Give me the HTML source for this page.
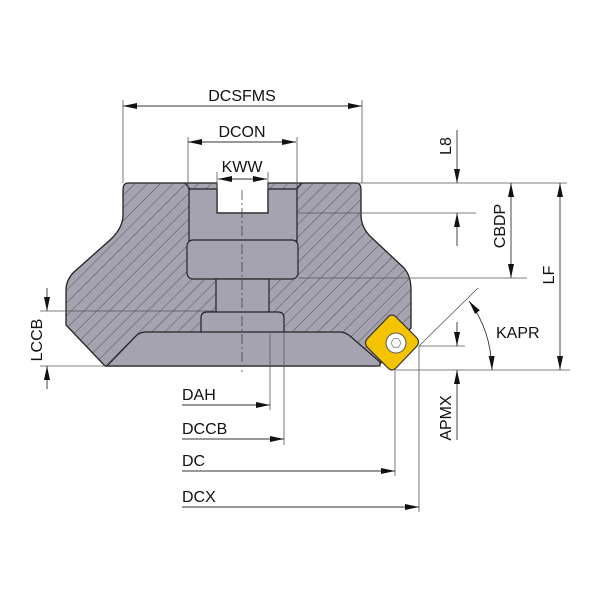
<!DOCTYPE html>
<html><head><style>html,body{margin:0;padding:0;background:#fff}svg{display:block}</style></head>
<body>
<svg width="600" height="600" viewBox="0 0 600 600" xmlns="http://www.w3.org/2000/svg" font-family="Liberation Sans, DejaVu Sans, sans-serif">
<defs>
<pattern id="h" patternUnits="userSpaceOnUse" width="9" height="9" patternTransform="rotate(45)">
<rect width="9" height="9" fill="#a5a3b0"/>
<line x1="0" y1="0" x2="0" y2="9" stroke="#4a4853" stroke-width="0.9"/>
</pattern>
<marker id="a" viewBox="0 0 14 6" refX="14" refY="3" markerWidth="14" markerHeight="6" markerUnits="userSpaceOnUse" orient="auto-start-reverse">
<path d="M0,0 L14,3 L0,6 z" fill="#111"/>
</marker>
</defs>
<!-- body -->
<path d="M128,183 L217,183 L217,213 L268,213 L268,183 L356,183 Q361,183 361,190 L361,215 Q361,228 372,238 L404,268 Q411,276 411,290 L411,328 L380,364 Q378,366 374,366 L105,366 L66,325 L66,290 Q66,280 74,272 L110,240 Q123,228 123,215 L123,190 Q123,183 128,183 Z" fill="url(#h)" stroke="#222" stroke-width="1.3"/>
<!-- slot region -->
<path d="M189,189 L217,189 L217,213 L268,213 L268,189 L297,189 L297,241 L189,241 Z" fill="#a5a3b0" stroke="#222" stroke-width="1.2"/>
<path d="M185,183 L190,189 M297,189 L302,183" stroke="#222" stroke-width="1.2"/>
<rect x="187" y="240" width="111" height="39" rx="6" fill="#a5a3b0" stroke="#222" stroke-width="1.2"/>
<rect x="216" y="279" width="53" height="34" fill="#a5a3b0" stroke="#222" stroke-width="1.2"/>
<path d="M201,332 L201,318 Q201,312 207,312 L278,312 Q284,312 284,318 L284,332" fill="#a5a3b0" stroke="#222" stroke-width="1.2"/>
<path d="M107,366 L136,336 Q140,332 146,332 L340,332 Q345,332 350,336 L380,362 L380,366 Z" fill="#a5a3b0" stroke="#222" stroke-width="1.2"/>
<!-- insert -->
<path d="M389,316 Q392,314 395,316 L417,338 Q420,342 417,346 L396,368 Q392,372 388,368 L367,347 Q364,343 367,339 Z" fill="#f5c400" stroke="#333" stroke-width="1.2"/>
<circle cx="396" cy="343" r="10" fill="#fff" stroke="#555" stroke-width="1"/>
<polygon points="391,343 393.5,338.7 398.5,338.7 401,343 398.5,347.3 393.5,347.3" fill="none" stroke="#888" stroke-width="0.8"/>
<!-- centre line -->
<line x1="242" y1="190" x2="242" y2="372" stroke="#444" stroke-width="0.8" stroke-dasharray="10,3,2,3"/>
<g stroke="#555" stroke-width="0.8" fill="none">
<line x1="123" y1="100" x2="123" y2="183"/><line x1="362" y1="100" x2="362" y2="183"/>
<line x1="188" y1="137" x2="188" y2="189"/><line x1="297" y1="137" x2="297" y2="189"/>
<line x1="217" y1="172" x2="217" y2="189"/><line x1="268" y1="172" x2="268" y2="189"/>
<line x1="357" y1="183" x2="567" y2="183"/>
<line x1="297" y1="213" x2="476" y2="213"/>
<line x1="298" y1="278" x2="527" y2="278"/>
<line x1="392" y1="370" x2="570" y2="370"/>
<line x1="419" y1="346" x2="465" y2="346"/>
<line x1="419" y1="346" x2="478" y2="288"/>
<line x1="40" y1="311" x2="216" y2="311"/>
<line x1="40" y1="366" x2="105" y2="366"/>
<line x1="270" y1="332" x2="270" y2="410"/>
<line x1="284" y1="332" x2="284" y2="445"/>
<line x1="395" y1="371" x2="395" y2="476"/>
<line x1="419" y1="346" x2="419" y2="512"/>
</g>
<g stroke="#333" stroke-width="0.9" fill="none">
<line x1="123" y1="106" x2="362" y2="106" marker-start="url(#a)" marker-end="url(#a)"/>
<line x1="188" y1="142" x2="296" y2="142" marker-start="url(#a)" marker-end="url(#a)"/>
<line x1="218" y1="179" x2="267" y2="179" marker-start="url(#a)" marker-end="url(#a)"/>
<line x1="457" y1="130" x2="457" y2="183" marker-end="url(#a)"/>
<line x1="457" y1="246" x2="457" y2="213" marker-end="url(#a)"/>
<line x1="511" y1="183" x2="511" y2="278" marker-start="url(#a)" marker-end="url(#a)"/>
<line x1="560" y1="183" x2="560" y2="370" marker-start="url(#a)" marker-end="url(#a)"/>
<line x1="457" y1="322" x2="457" y2="346" marker-end="url(#a)"/>
<line x1="457" y1="440" x2="457" y2="370" marker-end="url(#a)"/>
<line x1="47" y1="288" x2="47" y2="311" marker-end="url(#a)"/>
<line x1="47" y1="389" x2="47" y2="366" marker-end="url(#a)"/>
<path d="M469,301 Q491,330 492,370" marker-start="url(#a)" marker-end="url(#a)"/>
<line x1="182" y1="405" x2="270" y2="405" marker-end="url(#a)"/>
<line x1="182" y1="439" x2="284" y2="439" marker-end="url(#a)"/>
<line x1="182" y1="471" x2="395" y2="471" marker-end="url(#a)"/>
<line x1="182" y1="507" x2="419" y2="507" marker-end="url(#a)"/>
</g>
<g font-size="16" fill="#111">
<text x="242" y="101" text-anchor="middle">DCSFMS</text>
<text x="242" y="137" text-anchor="middle">DCON</text>
<text x="242" y="172" text-anchor="middle">KWW</text>
<text x="496" y="338">KAPR</text>
<text x="182" y="400">DAH</text>
<text x="182" y="434">DCCB</text>
<text x="182" y="466">DC</text>
<text x="182" y="502">DCX</text>
<text transform="translate(451,146) rotate(-90)" text-anchor="middle">L8</text>
<text transform="translate(505,226) rotate(-90)" text-anchor="middle">CBDP</text>
<text transform="translate(554,275) rotate(-90)" text-anchor="middle">LF</text>
<text transform="translate(451,418) rotate(-90)" text-anchor="middle">APMX</text>
<text transform="translate(42,340) rotate(-90)" text-anchor="middle">LCCB</text>
</g>
</svg>
</body></html>
